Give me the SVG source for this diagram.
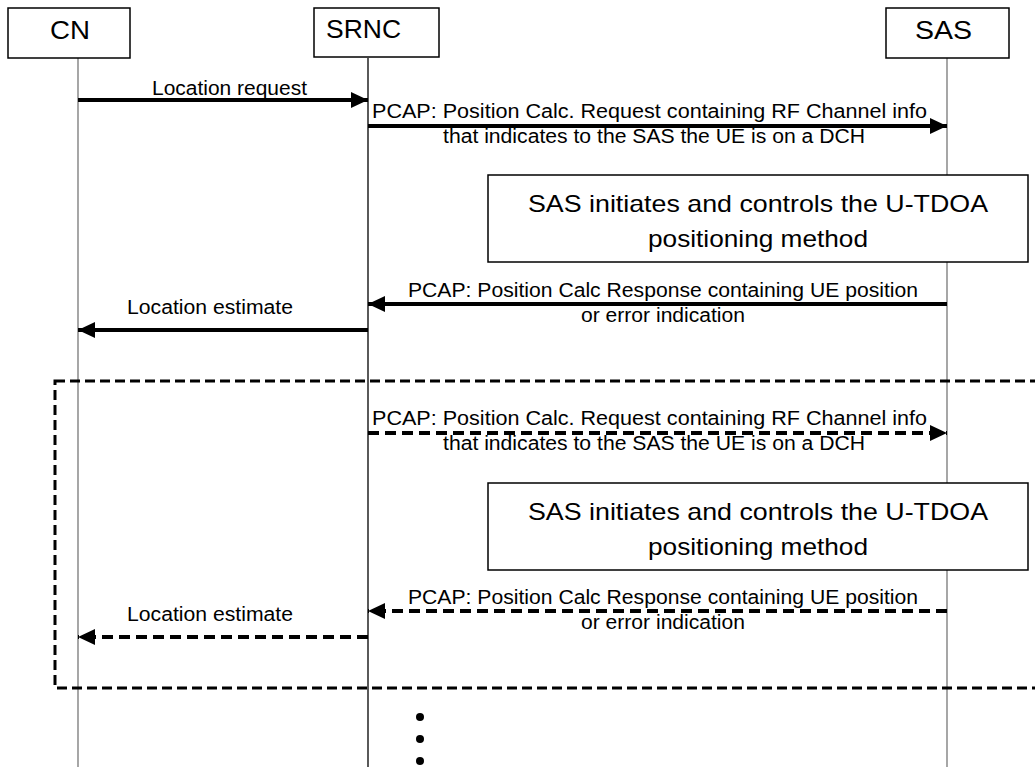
<svg xmlns="http://www.w3.org/2000/svg" width="1035" height="767" viewBox="0 0 1035 767">
<defs>
<style>
text{font-family:"Liberation Sans",Arial,sans-serif;fill:#000}
.hdr{font-size:26px}
.lbl{font-size:20px}
.big{font-size:24px}
.box{fill:#fff;stroke:#000;stroke-width:1.5}
.life{stroke:#777;stroke-width:1.3;fill:none}
.msg{stroke:#000;stroke-width:4;fill:none}
.dash{stroke-dasharray:11 6}
.frame{fill:none;stroke:#000;stroke-width:3;stroke-dasharray:10 5}
</style>
<marker id="ah" markerWidth="17" markerHeight="16" refX="17" refY="8" orient="auto" markerUnits="userSpaceOnUse">
<path d="M0,0 L17,8 L0,16 Z" fill="#000"/>
</marker>
</defs>
<rect width="1035" height="767" fill="#fff"/>
<g id="lifelines">
<line class="life" x1="78" y1="58" x2="78" y2="767"/>
<line class="life" x1="368" y1="58" x2="368" y2="767" style="stroke:#000"/>
<line class="life" x1="947" y1="58" x2="947" y2="767"/>
</g>
<g id="node-cn"><rect class="box" x="8" y="8" width="122" height="50"/><text class="hdr" x="50" y="39" textLength="40" lengthAdjust="spacingAndGlyphs">CN</text></g>
<g id="node-srnc"><rect class="box" x="314" y="8" width="125" height="49"/><text class="hdr" x="326" y="38" textLength="75" lengthAdjust="spacingAndGlyphs">SRNC</text></g>
<g id="node-sas"><rect class="box" x="886" y="8" width="123" height="50"/><text class="hdr" x="915" y="39" textLength="57" lengthAdjust="spacingAndGlyphs">SAS</text></g>
<g id="frame"><rect class="frame" x="55" y="381" width="1000" height="307"/></g>
<g id="node-proc1"><rect class="box" x="488" y="175" width="540" height="87"/>
<text class="big" x="528" y="212" textLength="460" lengthAdjust="spacingAndGlyphs">SAS initiates and controls the U-TDOA</text>
<text class="big" x="648" y="247" textLength="220" lengthAdjust="spacingAndGlyphs">positioning method</text></g>
<g id="node-proc2"><rect class="box" x="488" y="483" width="540" height="87"/>
<text class="big" x="528" y="520" textLength="460" lengthAdjust="spacingAndGlyphs">SAS initiates and controls the U-TDOA</text>
<text class="big" x="648" y="555" textLength="220" lengthAdjust="spacingAndGlyphs">positioning method</text></g>
<g id="connectors">
<line class="msg" x1="78" y1="100" x2="368" y2="100" marker-end="url(#ah)"/>
<line class="msg" x1="368" y1="126" x2="947" y2="126" marker-end="url(#ah)"/>
<line class="msg" x1="947" y1="304" x2="368" y2="304" marker-end="url(#ah)"/>
<line class="msg" x1="368" y1="330" x2="78" y2="330" marker-end="url(#ah)"/>
<line class="msg dash" x1="368" y1="433" x2="947" y2="433" marker-end="url(#ah)"/>
<line class="msg dash" x1="947" y1="611" x2="368" y2="611" marker-end="url(#ah)"/>
<line class="msg dash" x1="368" y1="637" x2="78" y2="637" marker-end="url(#ah)"/>
</g>
<g id="labels">
<text class="lbl" x="152" y="95" textLength="155" lengthAdjust="spacingAndGlyphs">Location request</text>
<text class="lbl" x="372" y="118" textLength="555" lengthAdjust="spacingAndGlyphs">PCAP: Position Calc. Request containing RF Channel info</text>
<text class="lbl" x="443" y="143" textLength="422" lengthAdjust="spacingAndGlyphs">that indicates to the SAS the UE is on a DCH</text>
<text class="lbl" x="408" y="297" textLength="510" lengthAdjust="spacingAndGlyphs">PCAP: Position Calc Response containing UE position</text>
<text class="lbl" x="581" y="322" textLength="164" lengthAdjust="spacingAndGlyphs">or error indication</text>
<text class="lbl" x="127" y="314" textLength="166" lengthAdjust="spacingAndGlyphs">Location estimate</text>
<text class="lbl" x="372" y="425" textLength="555" lengthAdjust="spacingAndGlyphs">PCAP: Position Calc. Request containing RF Channel info</text>
<text class="lbl" x="443" y="450" textLength="422" lengthAdjust="spacingAndGlyphs">that indicates to the SAS the UE is on a DCH</text>
<text class="lbl" x="408" y="604" textLength="510" lengthAdjust="spacingAndGlyphs">PCAP: Position Calc Response containing UE position</text>
<text class="lbl" x="581" y="629" textLength="164" lengthAdjust="spacingAndGlyphs">or error indication</text>
<text class="lbl" x="127" y="621" textLength="166" lengthAdjust="spacingAndGlyphs">Location estimate</text>
</g>
<g id="ellipsis">
<circle cx="420" cy="717" r="4"/>
<circle cx="420" cy="739" r="4"/>
<circle cx="420" cy="761" r="4"/>
</g>
</svg>
